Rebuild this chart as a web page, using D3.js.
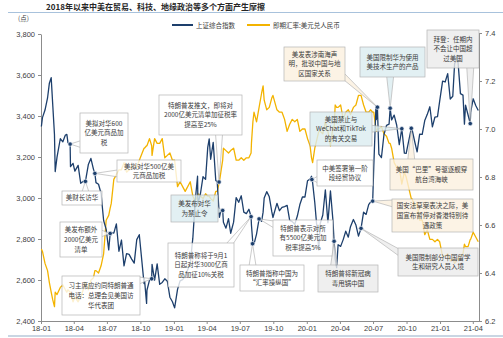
<!DOCTYPE html>
<html><head><meta charset="utf-8">
<script src="https://cdn.jsdelivr.net/npm/d3@7"></script>
<style>body{margin:0;background:#fff}svg{display:block}</style>
</head><body><svg id="c" width="503" height="338"></svg>
<script>
// ---------------- DATA ----------------
const title = "2018年以来中美在贸易、科技、地缘政治等多个方面产生摩擦";
const seriesNames = ["上证综合指数", "即期汇率:美元兑人民币"];
const leftUnit = "(点)";

const dates = [
"2018-01-02","2018-01-05","2018-01-12","2018-01-19","2018-01-24","2018-01-29","2018-02-02","2018-02-07","2018-02-09","2018-02-14",
"2018-02-23","2018-03-02","2018-03-09","2018-03-13","2018-03-16","2018-03-22","2018-03-23","2018-03-30","2018-04-04","2018-04-13",
"2018-04-20","2018-04-27","2018-05-02","2018-05-04","2018-05-11","2018-05-18","2018-05-25","2018-05-29","2018-06-01","2018-06-08",
"2018-06-15","2018-06-22","2018-06-29","2018-07-06","2018-07-10","2018-07-13","2018-07-20","2018-07-27","2018-08-03","2018-08-10",
"2018-08-17","2018-08-24","2018-08-31","2018-09-07","2018-09-14","2018-09-21","2018-09-28","2018-10-11","2018-10-12","2018-10-18",
"2018-10-19","2018-10-26","2018-11-01","2018-11-02","2018-11-09","2018-11-16","2018-11-23","2018-11-30","2018-12-07","2018-12-14",
"2018-12-21","2018-12-28",
"2019-01-03","2019-01-11","2019-01-18","2019-01-25","2019-02-01","2019-02-15","2019-02-22","2019-03-01","2019-03-07","2019-03-08",
"2019-03-15","2019-03-22","2019-03-29","2019-04-04","2019-04-08","2019-04-12","2019-04-19","2019-04-26","2019-04-30","2019-05-06",
"2019-05-10","2019-05-15","2019-05-17","2019-05-24","2019-05-31","2019-06-06","2019-06-14","2019-06-21","2019-06-28","2019-07-05",
"2019-07-12","2019-07-19","2019-07-26","2019-08-01","2019-08-02","2019-08-06","2019-08-09","2019-08-16","2019-08-23","2019-08-30",
"2019-09-03","2019-09-06","2019-09-13","2019-09-20","2019-09-27","2019-09-30","2019-10-11","2019-10-18","2019-10-25","2019-11-01",
"2019-11-08","2019-11-15","2019-11-22","2019-11-29","2019-12-06","2019-12-13","2019-12-20","2019-12-27",
"2020-01-03","2020-01-10","2020-01-14","2020-01-17","2020-01-23","2020-02-03","2020-02-07","2020-02-14","2020-02-21","2020-02-28",
"2020-03-06","2020-03-13","2020-03-16","2020-03-19","2020-03-23","2020-03-27","2020-04-03","2020-04-10","2020-04-17","2020-04-24",
"2020-04-30","2020-05-08","2020-05-15","2020-05-22","2020-05-29","2020-06-05","2020-06-12","2020-06-19","2020-06-24","2020-06-30",
"2020-07-03","2020-07-09","2020-07-10","2020-07-13","2020-07-17","2020-07-24","2020-07-31","2020-08-07","2020-08-14","2020-08-17",
"2020-08-21","2020-08-28","2020-09-04","2020-09-11","2020-09-18","2020-09-25","2020-09-30","2020-10-14","2020-10-16","2020-10-23",
"2020-10-30","2020-11-06","2020-11-13","2020-11-20","2020-11-27","2020-12-04","2020-12-11","2020-12-18","2020-12-25","2020-12-31",
"2021-01-08","2021-01-15","2021-01-22","2021-01-29","2021-02-05","2021-02-10","2021-02-18","2021-02-26","2021-03-05","2021-03-09",
"2021-03-12","2021-03-19","2021-03-25","2021-03-26","2021-04-02","2021-04-09","2021-04-16"
];

const sseIndex = [
3349,3392,3429,3488,3560,3587,3462,3310,3129,3199,
3289,3274,3307,3310,3270,3263,3153,3169,3131,3159,
3072,3082,3081,3091,3163,3193,3141,3120,3075,3067,
3022,2890,2847,2747,2827,2831,2829,2874,2740,2795,
2669,2729,2725,2702,2682,2797,2821,2583,2607,2486,
2550,2599,2606,2676,2599,2679,2579,2588,2606,2594,
2516,2494,
2464,2554,2596,2602,2618,2682,2804,2994,3106,2970,
3022,3104,3091,3247,3288,3189,3271,3086,3078,2906,
2939,2939,2882,2853,2899,2828,2882,3002,2979,3011,
2931,2924,2945,2909,2868,2777,2775,2824,2898,2886,
2931,3000,3031,3006,2932,2905,2974,2938,2954,2958,
2964,2891,2885,2872,2912,2968,3005,3005,
3084,3092,3106,3075,2977,2746,2876,2917,3040,2880,
3035,2887,2789,2702,2660,2772,2764,2797,2838,2809,
2860,2895,2868,2814,2852,2931,2920,2968,2980,2985,
3153,3450,3383,3443,3214,3197,3310,3354,3360,3438,
3381,3404,3355,3260,3338,3219,3218,3340,3336,3278,
3225,3312,3310,3378,3408,3445,3347,3395,3397,3473,
3570,3566,3607,3483,3496,3655,3696,3509,3502,3360,
3453,3405,3363,3418,3484,3451,3427
];

const usdCny = [
6.50,6.49,6.44,6.41,6.36,6.32,6.29,6.26,6.32,6.31,
6.34,6.35,6.33,6.32,6.33,6.32,6.32,6.28,6.30,6.28,
6.30,6.33,6.36,6.36,6.33,6.37,6.38,6.41,6.41,6.40,
6.43,6.48,6.62,6.64,6.67,6.69,6.79,6.81,6.83,6.83,
6.86,6.82,6.83,6.84,6.85,6.84,6.87,6.92,6.92,6.93,
6.93,6.96,6.93,6.89,6.96,6.94,6.94,6.96,6.88,6.89,
6.90,6.87,
6.87,6.76,6.78,6.76,6.74,6.78,6.72,6.70,6.72,6.73,
6.72,6.71,6.73,6.72,6.72,6.71,6.70,6.74,6.74,6.78,
6.82,6.87,6.92,6.91,6.90,6.91,6.92,6.87,6.87,6.88,
6.87,6.88,6.88,6.90,6.94,7.03,7.07,7.03,7.09,7.15,
7.18,7.12,7.08,7.09,7.13,7.14,7.08,7.07,7.07,7.04,
6.99,7.02,7.04,7.03,7.04,6.99,7.00,7.00,
6.96,6.93,6.88,6.86,6.92,6.99,6.99,6.98,7.03,6.99,
6.93,7.01,7.00,7.10,7.09,7.09,7.10,7.04,7.07,7.08,
7.06,7.09,7.10,7.14,7.14,7.10,7.07,7.07,7.08,7.07,
7.07,7.00,6.99,7.00,7.00,7.01,6.98,6.97,6.94,6.94,
6.92,6.86,6.84,6.84,6.77,6.82,6.80,6.71,6.71,6.68,
6.69,6.62,6.62,6.56,6.58,6.54,6.54,6.53,6.54,6.53,
6.47,6.47,6.48,6.45,6.46,6.44,6.46,6.47,6.48,6.52,
6.51,6.51,6.54,6.54,6.57,6.55,6.53
];

const leftTicks = [2400, 2600, 2800, 3000, 3200, 3400, 3600, 3800];
const rightTicks = [6.2, 6.4, 6.6, 6.8, 7.0, 7.2, 7.4];
const xTickDates = ["2018-01-01","2018-04-01","2018-07-01","2018-10-01","2019-01-01","2019-04-01","2019-07-01","2019-10-01","2020-01-01","2020-04-01","2020-07-01","2020-10-01","2021-01-01","2021-04-01"];
const xTickLabels = ["18-01","18-04","18-07","18-10","19-01","19-04","19-07","19-10","20-01","20-04","20-07","20-10","21-01","21-04"];

// events: date, index value at the marker, callout text lines
const eventDates = ["2018-03-22","2018-05-03","2018-05-29","2018-07-10","2018-11-01","2019-05-05","2019-05-15","2019-08-01","2019-08-05","2019-08-23",
                    "2020-01-15","2020-03-16","2020-05-29","2020-06-30","2020-07-13","2020-08-17","2020-09-18","2020-10-14","2021-03-25"];
const eventValues = [3263,3081,3120,2827,2606,3078,2939,2909,2777,2898,
                     3090,2789,2852,2985,3443,3438,3338,3340,3363];
const eventTexts = [
  ["美拟对华600","亿美元商品加","税"],
  ["美财长访华"],
  ["美拟对华500亿美","元商品加税"],
  ["美发布额外","2000亿美元","清单"],
  ["习主席应约同特朗普通","电话：总理会见美国访","华代表团"],
  ["特朗普发推文，即将对","2000亿美元清单加征税率","提高至25%"],
  ["美发布对华","为禁止令"],
  ["特朗普称将于9月1","日起对华3000亿商","品加征10%关税"],
  ["特朗普指称中国为","“汇率操纵国”"],
  ["特朗普表示对所","有5500亿美元加","税率提高5%"],
  ["中美签署第一阶","段经贸协议"],
  ["特朗普将新冠病","毒甩锅中国"],
  ["美国限制部分中国留学","生和研究人员入境"],
  ["国安法草案表决之际，美","国宣布暂停对香港特别待","遇政策"],
  ["美发表涉南海声","明，批驳中国与地","区国家关系"],
  ["美国限制华为使用","美技术生产的产品"],
  ["美国禁止与","WeChat和TikTok","的有关交易"],
  ["美国“巴里”号驱逐舰穿","航台湾海峡"],
  ["拜登：任期内","不会让中国超","过美国"]
];

// ---------------- LAYOUT / STYLE (not data) ----------------
const fills = {w:"#ffffff", t:"#dcedf1", b:"#fcf1df", g:"#ececec"};
const calloutBoxes = [
  {x:80,y:113,w:48,h:40,f:"w"},
  {x:62,y:191,w:40,h:14,f:"w"},
  {x:117,y:160,w:64,h:22,f:"w"},
  {x:60,y:222,w:42,h:35,f:"w"},
  {x:62,y:276,w:78,h:39,f:"w"},
  {x:159,y:95,w:83,h:40,f:"w"},
  {x:171,y:195,w:47,h:27,f:"t"},
  {x:168,y:243,w:66,h:44,f:"w"},
  {x:240,y:265,w:64,h:26,f:"w"},
  {x:273,y:220,w:60,h:36,f:"w"},
  {x:317,y:160,w:56,h:26,f:"w"},
  {x:318,y:265,w:60,h:27,f:"g"},
  {x:398,y:248,w:80,h:28,f:"g"},
  {x:392,y:199,w:81,h:33,f:"b"},
  {x:284,y:47,w:61,h:34,f:"b"},
  {x:360,y:47,w:65,h:30,f:"t"},
  {x:310,y:112,w:62,h:34,f:"t"},
  {x:390,y:159,w:83,h:31,f:"b"},
  {x:427,y:30,w:52,h:38,f:"g"}
];

const BLUE = "#1d3f6c", GOLD = "#f3b300", AXIS = "#8c8c8c", TXT = "#404040";
const CJK = "'Noto Sans CJK SC', sans-serif";
const NUM = "'Liberation Sans', Arial, sans-serif";

const parse = d3.timeParse("%Y-%m-%d");
const svg = d3.select("#c");

const x = d3.scaleTime().domain([parse("2018-01-01"), parse("2021-04-18")]).range([41, 479]);
const yL = d3.scaleLinear().domain([2400, 3800]).range([321, 34]);
const yR = d3.scaleLinear().domain([6.2, 7.4]).range([321, 33]);

// title + rules
svg.append("text").attr("x", 46).attr("y", 9.5).attr("font-family", CJK).attr("font-size", 8)
  .attr("font-weight", 700).attr("fill", "#262626").text(title);
svg.append("line").attr("x1", 8).attr("x2", 503).attr("y1", 12.5).attr("y2", 12.5).attr("stroke", "#a8c2dc").attr("stroke-width", 1);
svg.append("line").attr("x1", 8).attr("x2", 503).attr("y1", 336).attr("y2", 336).attr("stroke", "#c9d6e3").attr("stroke-width", 2);

svg.append("text").attr("x", 18).attr("y", 21).attr("font-family", CJK).attr("font-size", 6.5).attr("fill", TXT).text(leftUnit);

// legend
svg.append("line").attr("x1", 172).attr("x2", 193).attr("y1", 25).attr("y2", 25).attr("stroke", BLUE).attr("stroke-width", 2);
svg.append("text").attr("x", 196).attr("y", 27.5).attr("font-family", CJK).attr("font-size", 6.5).attr("fill", TXT).text(seriesNames[0]);
svg.append("line").attr("x1", 247).attr("x2", 270).attr("y1", 25).attr("y2", 25).attr("stroke", GOLD).attr("stroke-width", 2);
svg.append("text").attr("x", 273).attr("y", 27.5).attr("font-family", CJK).attr("font-size", 6.5).attr("fill", TXT).text(seriesNames[1]);

// axes
function styleAxis(g) {
  g.selectAll("path,line").attr("stroke", AXIS);
  g.selectAll("text").attr("font-family", NUM).attr("font-size", 7.5).attr("fill", TXT);
}
svg.append("g").attr("transform", "translate(41,0)")
  .call(d3.axisLeft(yL).tickValues(leftTicks).tickFormat(d3.format(",")).tickSize(3).tickSizeOuter(0).tickPadding(3))
  .call(styleAxis);
svg.append("g").attr("transform", "translate(479,0)")
  .call(d3.axisRight(yR).tickValues(rightTicks).tickFormat(d3.format(".1f")).tickSize(3).tickSizeOuter(0).tickPadding(3))
  .call(styleAxis);
svg.append("g").attr("transform", "translate(0,321)")
  .call(d3.axisBottom(x).tickValues(xTickDates.map(parse)).tickFormat((d, i) => xTickLabels[i]).tickSize(3).tickSizeOuter(0).tickPadding(2))
  .call(styleAxis);

// lines
const n = Math.min(dates.length, sseIndex.length, usdCny.length);
const rows = d3.range(n).map(i => ({d: parse(dates[i]), s: sseIndex[i], c: usdCny[i]}));
svg.append("path").datum(rows).attr("fill", "none").attr("stroke", GOLD).attr("stroke-width", 1.3)
  .attr("stroke-linejoin", "round").attr("d", d3.line().x(r => x(r.d)).y(r => yR(r.c)));
svg.append("path").datum(rows).attr("fill", "none").attr("stroke", BLUE).attr("stroke-width", 1.3)
  .attr("stroke-linejoin", "round").attr("d", d3.line().x(r => x(r.d)).y(r => yL(r.s)));

// callouts
function wedge(b, tx, ty) {
  const dxOut = tx < b.x ? b.x - tx : (tx > b.x + b.w ? tx - (b.x + b.w) : 0);
  const dyOut = ty < b.y ? b.y - ty : (ty > b.y + b.h ? ty - (b.y + b.h) : 0);
  const hw = 3.5;
  let p1, p2;
  if (dxOut > dyOut) {
    const ex = tx < b.x ? b.x + 1 : b.x + b.w - 1;
    const cy = Math.max(b.y + hw + 1, Math.min(b.y + b.h - hw - 1, ty));
    p1 = [ex, cy - hw]; p2 = [ex, cy + hw];
  } else {
    const ey = ty < b.y ? b.y + 1 : b.y + b.h - 1;
    const cx = Math.max(b.x + hw + 1, Math.min(b.x + b.w - hw - 1, tx));
    p1 = [cx - hw, ey]; p2 = [cx + hw, ey];
  }
  return [p1, [tx, ty], p2];
}

const events = eventDates.map((d, i) => ({d: parse(d), v: eventValues[i], lines: eventTexts[i], box: calloutBoxes[i]}));

events.forEach(e => {
  const b = e.box, tx = x(e.d), ty = yL(e.v);
  const g = svg.append("g").attr("opacity", 0.8);
  g.append("path").attr("d", d3.line()(wedge(b, tx, ty)) + "Z")
    .attr("fill", fills[b.f]).attr("stroke", "#a3a3a3").attr("stroke-width", 0.7);
  g.append("rect").attr("x", b.x).attr("y", b.y).attr("width", b.w).attr("height", b.h)
    .attr("fill", fills[b.f]).attr("stroke", "#a3a3a3").attr("stroke-width", 0.7);
});

events.forEach(e => {
  const tx = x(e.d), ty = yL(e.v);
  svg.append("circle").attr("cx", tx).attr("cy", ty).attr("r", 2.2)
    .attr("fill", BLUE).attr("stroke", "#e8edf3").attr("stroke-width", 0.7);
});

events.forEach(e => {
  const b = e.box, lh = 9.8, k = e.lines.length;
  const cy = b.y + b.h / 2;
  e.lines.forEach((t, j) => {
    svg.append("text").attr("x", b.x + b.w / 2).attr("y", cy + (j - (k - 1) / 2) * lh + 2.4)
      .attr("text-anchor", "middle").attr("font-family", CJK).attr("font-size", 6.5)
      .attr("fill", "#3a3a3a").text(t);
  });
});
</script>
</body></html>
